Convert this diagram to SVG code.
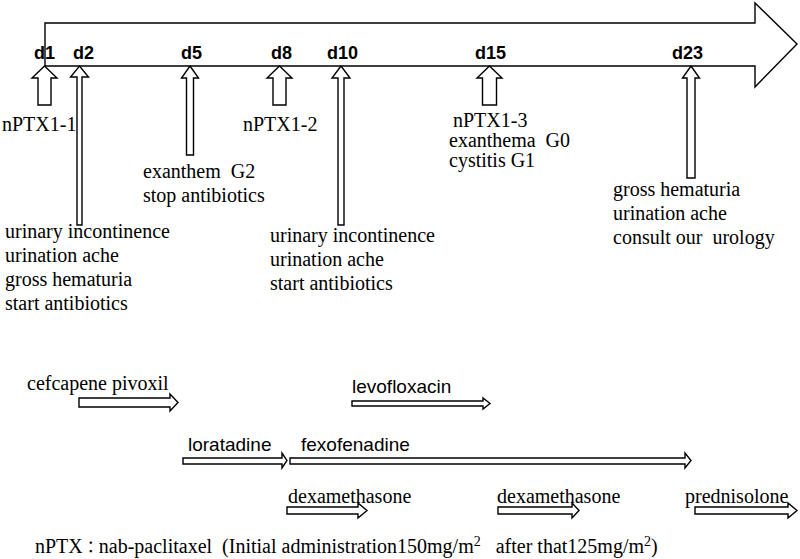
<svg xmlns="http://www.w3.org/2000/svg" width="800" height="559" viewBox="0 0 800 559">
<style>
.ar{fill:#fff;stroke:#000;stroke-width:1.4;stroke-linejoin:miter}
.day{font-family:"Liberation Sans",Arial,sans-serif;font-weight:bold;font-size:18px;fill:#000}
.sr{font-family:"Liberation Serif","Times New Roman",serif;font-size:20px;fill:#000}
.ss{font-family:"Liberation Sans",Arial,sans-serif;font-size:19px;fill:#000}
.sup{font-size:14px}
</style>
<rect width="800" height="559" fill="#fff"/>
<g id="timeline">
<polygon class="ar" points="45,23 755,23 755,3 797,44 755,87 755,66 45,66"/>
<text class="day" x="34" y="59">d1</text>
<text class="day" x="73" y="59">d2</text>
<text class="day" x="181" y="59">d5</text>
<text class="day" x="271" y="59">d8</text>
<text class="day" x="327" y="59">d10</text>
<text class="day" x="475" y="59">d15</text>
<text class="day" x="672" y="59">d23</text>
</g>
<g id="connectors">
<polygon class="ar" points="44.5,66 57,78 51,78 51,105 38,105 38,78 32,78"/>
<polygon class="ar" points="79.5,66 88.5,77 82,77 82,225 77,225 77,77 70.5,77"/>
<polygon class="ar" points="190,66 198.5,78 193.5,78 193.5,155 186.5,155 186.5,78 181.5,78"/>
<polygon class="ar" points="279.5,66 292,78 286,78 286,105 273,105 273,78 267,78"/>
<polygon class="ar" points="341,66 350,78 344,78 344,225 338,225 338,78 332,78"/>
<polygon class="ar" points="489.5,66 502,78 496.5,78 496.5,105 482.5,105 482.5,78 477,78"/>
<polygon class="ar" points="691,66 699.5,78 695,78 695,178 687,178 687,78 682.5,78"/>
</g>
<g id="n-d1">
<text class="sr" x="2" y="131">nPTX1-1</text>
</g>
<g id="n-d2">
<text class="sr" x="5" y="238">urinary incontinence</text>
<text class="sr" x="5" y="262">urination ache</text>
<text class="sr" x="5" y="286">gross hematuria</text>
<text class="sr" x="5" y="310">start antibiotics</text>
</g>
<g id="n-d5">
<text class="sr" x="143" y="178" xml:space="preserve">exanthem  G2</text>
<text class="sr" x="143" y="202">stop antibiotics</text>
</g>
<g id="n-d8">
<text class="sr" x="243" y="131">nPTX1-2</text>
</g>
<g id="n-d10">
<text class="sr" x="270" y="242">urinary incontinence</text>
<text class="sr" x="270" y="266">urination ache</text>
<text class="sr" x="270" y="290">start antibiotics</text>
</g>
<g id="n-d15">
<text class="sr" x="453" y="127">nPTX1-3</text>
<text class="sr" x="449" y="147" xml:space="preserve">exanthema  G0</text>
<text class="sr" x="449" y="167">cystitis G1</text>
</g>
<g id="n-d23">
<text class="sr" x="613" y="196">gross hematuria</text>
<text class="sr" x="613" y="220">urination ache</text>
<text class="sr" x="613" y="244" xml:space="preserve">consult our  urology</text>
</g>
<g id="drug-cefcapene">
<text class="sr" x="27" y="390">cefcapene pivoxil</text>
<polygon class="ar" points="79,398 170,398 170,394 178,402.5 170,411 170,407 79,407"/>
</g>
<g id="drug-levofloxacin">
<text class="ss" x="352" y="393">levofloxacin</text>
<polygon class="ar" points="352,401 483,401 483,398 490,403.5 483,409 483,406 352,406"/>
</g>
<g id="drug-loratadine">
<text class="ss" x="188" y="451">loratadine</text>
<polygon class="ar" points="183,458 282,458 282,453 287,460.5 282,468 282,464 183,464"/>
</g>
<g id="drug-fexofenadine">
<text class="ss" x="301" y="451">fexofenadine</text>
<polygon class="ar" points="290,458 685,458 685,453 691,460.5 685,468 685,464 290,464"/>
</g>
<g id="drug-dexamethasone-1">
<text class="sr" x="288" y="503">dexamethasone</text>
<polygon class="ar" points="287,507 358,507 358,503 367,510.5 358,518 358,514 287,514"/>
</g>
<g id="drug-dexamethasone-2">
<text class="sr" x="497" y="503">dexamethasone</text>
<polygon class="ar" points="498,507 572,507 572,503 579,510.5 572,518 572,514 498,514"/>
</g>
<g id="drug-prednisolone">
<text class="sr" x="685" y="503">prednisolone</text>
<polygon class="ar" points="695,507 788,507 788,503 797,510.5 788,518 788,514 695,514"/>
</g>
<g id="footnote">
<text class="sr" x="35" y="553" xml:space="preserve">nPTX<tspan font-family="'Noto Sans CJK JP',sans-serif" font-size="16">：</tspan>nab-paclitaxel  (Initial administration150mg/m<tspan class="sup" dy="-7">2</tspan><tspan dy="7">   after that125mg/m</tspan><tspan class="sup" dy="-7">2</tspan><tspan dy="7">)</tspan></text>
</g>
</svg>
